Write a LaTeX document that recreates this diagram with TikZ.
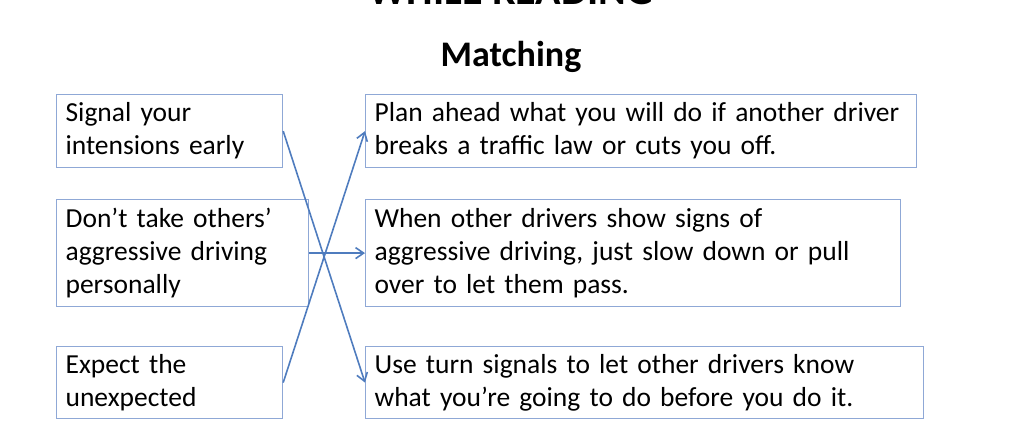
\documentclass[tikz,border=0pt]{standalone}
\usepackage{fontspec}
\setmainfont{Carlito}
\usetikzlibrary{arrows.meta}
\definecolor{boxblue}{RGB}{143,168,214}
\definecolor{linkblue}{RGB}{79,124,190}
\begin{document}
\begin{tikzpicture}[
      x=1pt, y=-1pt,
      box/.style={draw=boxblue, line width=1.2pt, anchor=north west,
                  align=left, inner xsep=9pt, inner ysep=2pt,
                  font=\fontsize{27.5}{33}\selectfont, text=black},
      link/.style={draw=linkblue, line width=1.6pt,
                   -{Straight Barb[length=8pt,width=11pt]}}
    ]
      \useasboundingbox (0,0) rectangle (1019,446);
      % headings
      \node[font=\fontsize{42}{44}\selectfont\bfseries, anchor=base] (top) at (511,5) {WHILE READING};
      \node[font=\fontsize{36}{38}\selectfont\bfseries] (title) at (511,57) {Matching};
      % left column
      \node[box, text width=208pt, minimum height=73pt] (l1) at (56,94)
        {Signal your\\intensions early};
      \node[box, text width=234pt, minimum height=107pt] (l2) at (56,199)
        {Don’t take others’\\aggressive driving\\personally};
      \node[box, text width=208pt, minimum height=72pt] (l3) at (56,346)
        {Expect the\\unexpected};
      % right column
      \node[box, text width=533pt, minimum height=73pt] (r1) at (365,94)
        {Plan ahead what you will do if another driver\\breaks a traffic law or cuts you off.};
      \node[box, text width=517pt, minimum height=107pt] (r2) at (365,199)
        {When other drivers show signs of\\aggressive driving, just slow down or pull\\over to let them pass.};
      \node[box, text width=540pt, minimum height=72pt] (r3) at (365,346)
        {Use turn signals to let other drivers know\\what you’re going to do before you do it.};
      % answers
      \draw[link] (l1.east) -- (r3.west);
      \draw[link] (l2.east) -- (r2.west);
      \draw[link] (l3.east) -- (r1.west);
    \end{tikzpicture}
\end{document}
